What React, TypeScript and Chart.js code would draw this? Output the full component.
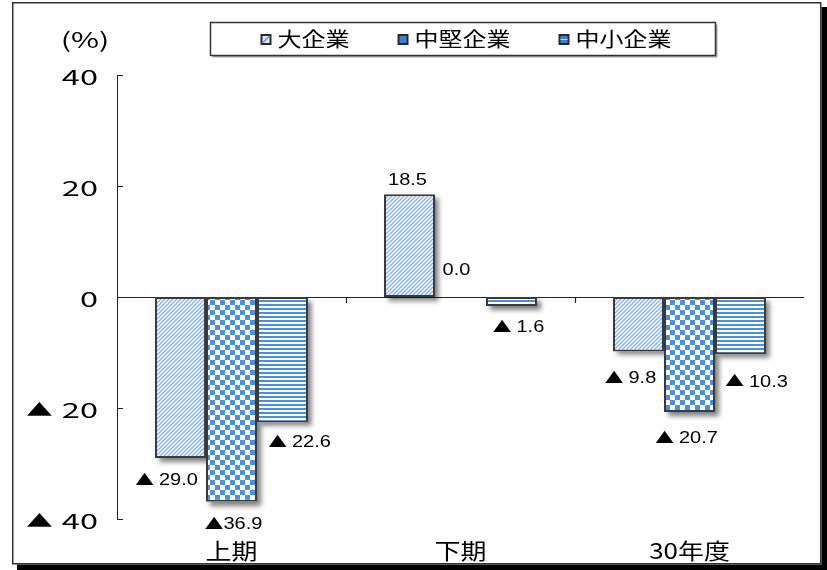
import { useEffect, useRef } from "react";
import { Chart, registerables } from "chart.js";

Chart.register(...registerables);

// ---- data ----
const categories = ["上期", "下期", "30年度"];
const seriesNames = ["大企業", "中堅企業", "中小企業"];
const largeCorp = [-29.0, 18.5, -9.8];
const midCorp = [-36.9, 0.0, -20.7];
const smallCorp = [-22.6, -1.6, -10.3];
const yTicks = [40, 20, 0, -20, -40];
const unitLabel = "(%)";

// ---- label placement (offsets from the bar end, in px) ----
const labelOffsets = [
  [[-14, 23], [-2, -14], [-8, 27]],
  [[2, 23], [-4, -26], [-3, 27]],
  [[17, 20], [7, 22], [16, 28]],
];
// labels written without the gap after the triangle
const tightLabels = [
  [false, false, false],
  [true, false, false],
  [false, false, false],
];

const FRAME = { left: 12, top: 2, right: 821.5, bottom: 564.5 };
const LEGEND_BOX = { left: 210.5, top: 22.5, right: 715.5, bottom: 55.5 };
const TRI = "▲";

// Draws "▲ n" style text: the triangle in a CJK font, the number in its own font,
// everything widened horizontally by sx.
function drawSigned(
  ctx: CanvasRenderingContext2D,
  negative: boolean,
  gap: number,
  num: string,
  x: number,
  y: number,
  numFont: string,
  triFont: string,
  triDy: number,
  sx: number,
  align: "left" | "center" | "right"
) {
  ctx.save();
  ctx.textBaseline = "middle";
  ctx.textAlign = "left";
  ctx.fillStyle = "#000";
  ctx.font = triFont;
  const tw = negative ? ctx.measureText(TRI).width : 0;
  ctx.font = numFont;
  const nw = ctx.measureText(num).width;
  const g = negative ? gap : 0;
  const total = (tw + g + nw) * sx;
  let left = x;
  if (align === "center") left = x - total / 2;
  else if (align === "right") left = x - total;
  ctx.translate(left, y);
  ctx.scale(sx, 1);
  if (negative) {
    ctx.font = triFont;
    ctx.fillText(TRI, 0, triDy);
  }
  ctx.font = numFont;
  ctx.fillText(num, tw + g, 0);
  ctx.restore();
}

function stretchText(
  ctx: CanvasRenderingContext2D,
  text: string,
  x: number,
  y: number,
  font: string,
  sx: number,
  align: CanvasTextAlign
) {
  ctx.save();
  ctx.font = font;
  ctx.textAlign = align;
  ctx.textBaseline = "middle";
  ctx.fillStyle = "#000";
  ctx.translate(x, y);
  ctx.scale(sx, 1);
  ctx.fillText(text, 0, 0);
  ctx.restore();
}

function makeTile(w: number, h: number, paint: (c: CanvasRenderingContext2D) => void) {
  const cv = document.createElement("canvas");
  cv.width = w;
  cv.height = h;
  const c = cv.getContext("2d")!;
  c.fillStyle = "#fff";
  c.fillRect(0, 0, w, h);
  paint(c);
  return cv;
}

function buildPatterns(ctx: CanvasRenderingContext2D) {
  const hatch = makeTile(4, 4, (c) => {
    c.strokeStyle = "#86b2e6";
    c.lineWidth = 1.3;
    c.beginPath();
    c.moveTo(-1, 5);
    c.lineTo(5, -1);
    c.moveTo(-1, 1);
    c.lineTo(1, -1);
    c.moveTo(3, 5);
    c.lineTo(5, 3);
    c.stroke();
  });
  const checker = makeTile(10, 10, (c) => {
    c.fillStyle = "#4b8fe0";
    c.fillRect(0, 0, 5, 5);
    c.fillRect(5, 5, 5, 5);
  });
  const stripes = makeTile(1, 4, (c) => {
    c.fillStyle = "#4b8dde";
    c.fillRect(0, 0, 1, 2);
  });
  return [
    ctx.createPattern(hatch, "repeat")!,
    ctx.createPattern(checker, "repeat")!,
    ctx.createPattern(stripes, "repeat")!,
  ];
}

// page frame with its black drop shadow
const framePlugin = {
  id: "frame",
  beforeDraw(chart: any) {
    const { ctx, width, height } = chart;
    ctx.save();
    ctx.fillStyle = "#fff";
    ctx.fillRect(0, 0, width, height);
    ctx.fillStyle = "#000";
    ctx.fillRect(FRAME.left + 5, FRAME.top + 5, width - FRAME.left - 5, height - FRAME.top - 5);
    ctx.fillStyle = "#fff";
    ctx.fillRect(FRAME.left, FRAME.top, FRAME.right - FRAME.left, FRAME.bottom - FRAME.top);
    ctx.strokeStyle = "#333";
    ctx.lineWidth = 1.5;
    ctx.strokeRect(FRAME.left + 0.75, FRAME.top + 0.75, FRAME.right - FRAME.left - 1.5, FRAME.bottom - FRAME.top - 1.5);
    ctx.restore();
  },
};

// axes, tick labels and bar shadows
const axesPlugin = {
  id: "axesAndShadows",
  beforeDatasetsDraw(chart: any) {
    const { ctx, chartArea, scales } = chart;
    const y = scales.y;
    const x = scales.x;
    const L = chartArea.left;
    const R = chartArea.right;
    const y0 = y.getPixelForValue(0);

    ctx.save();
    ctx.strokeStyle = "#222";
    ctx.lineWidth = 1;
    ctx.beginPath();
    ctx.moveTo(L + 0.5, chartArea.top);
    ctx.lineTo(L + 0.5, chartArea.bottom);
    yTicks.forEach((v) => {
      const py = Math.round(y.getPixelForValue(v)) + 0.5;
      ctx.moveTo(L, py);
      ctx.lineTo(L + 6, py);
    });
    ctx.stroke();

    ctx.beginPath();
    ctx.lineWidth = 1.2;
    ctx.moveTo(L, Math.round(y0) + 0.5);
    ctx.lineTo(R, Math.round(y0) + 0.5);
    for (let i = 0; i < categories.length - 1; i++) {
      const bx = Math.round((x.getPixelForValue(i) + x.getPixelForValue(i + 1)) / 2) + 0.5;
      ctx.moveTo(bx, y0);
      ctx.lineTo(bx, y0 + 6);
    }
    ctx.stroke();
    ctx.restore();

    // value axis labels
    yTicks.forEach((v) => {
      drawSigned(
        ctx,
        v < 0,
        6,
        String(Math.abs(v)),
        98,
        y.getPixelForValue(v) + 2,
        '21px "Noto Sans CJK JP"',
        '17px "Noto Sans CJK JP"',
        -0.5,
        1.55,
        "right"
      );
    });
    stretchText(ctx, unitLabel, 85, 40, '21px "Noto Sans CJK JP"', 1.45, "center");

    // category labels
    categories.forEach((c, i) => {
      stretchText(ctx, c, x.getPixelForValue(i), 551, '22px "Noto Sans CJK JP"', 1.18, "center");
    });

    // soft drop shadows under the bars
    ctx.save();
    ctx.shadowColor = "rgba(0,0,0,0.5)";
    ctx.shadowBlur = 5;
    ctx.shadowOffsetX = 4;
    ctx.shadowOffsetY = 4;
    ctx.fillStyle = "#fff";
    chart.data.datasets.forEach((_: any, di: number) => {
      chart.getDatasetMeta(di).data.forEach((el: any) => {
        const { x: bx, y: by, base, width } = el.getProps(["x", "y", "base", "width"], true);
        const h = Math.abs(by - base);
        if (h < 0.5) return;
        ctx.fillRect(bx - width / 2, Math.min(by, base), width, h);
      });
    });
    ctx.restore();
  },
  afterDatasetsDraw(chart: any) {
    const { ctx } = chart;
    chart.data.datasets.forEach((ds: any, di: number) => {
      chart.getDatasetMeta(di).data.forEach((el: any, i: number) => {
        const v = ds.data[i] as number;
        const [dx, dy] = labelOffsets[di][i];
        drawSigned(
          ctx,
          v < 0,
          tightLabels[di][i] ? 0 : 4,
          Math.abs(v).toFixed(1),
          el.x + dx,
          el.y + dy,
          '16px "Liberation Sans"',
          '15px "Noto Sans CJK JP"',
          -1.5,
          1.25,
          "center"
        );
      });
    });
  },
};

// boxed legend across the top
const legendPlugin = {
  id: "boxLegend",
  afterDraw(chart: any) {
    const { ctx } = chart;
    const b = LEGEND_BOX;
    ctx.save();
    ctx.fillStyle = "rgba(0,0,0,0.35)";
    ctx.fillRect(b.left + 2, b.top + 2, b.right - b.left, b.bottom - b.top);
    ctx.fillStyle = "#fff";
    ctx.fillRect(b.left, b.top, b.right - b.left, b.bottom - b.top);
    ctx.strokeStyle = "#333";
    ctx.lineWidth = 1.5;
    ctx.strokeRect(b.left, b.top, b.right - b.left, b.bottom - b.top);

    const font = '20px "Noto Sans CJK JP"';
    const sx = 1.2;
    ctx.font = font;
    const items = chart.data.datasets.map((ds: any) => ({ label: ds.label as string, w: ctx.measureText(ds.label).width * sx }));
    const gap = 48;
    const total = items.reduce((s: number, it: any) => s + 17 + it.w, 0) + gap * (items.length - 1);
    let cx = (b.left + b.right) / 2 + 3 - total / 2;
    const cy = (b.top + b.bottom) / 2;
    items.forEach((it: any, i: number) => {
      const my = Math.round(cy - 5);
      ctx.fillStyle = "#2a2a2a";
      ctx.fillRect(cx, my, 11, 11);
      ctx.fillStyle = i === 0 ? "#e4ecf7" : "#3f80d4";
      ctx.fillRect(cx + 2, my + 2, 7, 7);
      if (i === 0) {
        ctx.strokeStyle = "#5b8fd6";
        ctx.lineWidth = 1.2;
        ctx.beginPath();
        ctx.moveTo(cx + 2.5, my + 8.5);
        ctx.lineTo(cx + 8.5, my + 2.5);
        ctx.stroke();
      } else if (i === 2) {
        ctx.fillStyle = "#cfe0f6";
        ctx.fillRect(cx + 2, my + 5, 7, 1);
      }
      stretchText(ctx, it.label, cx + 17, cy, font, sx, "left");
      cx += 17 + it.w + gap;
    });
    ctx.restore();
  },
};

export default function App() {
  const ref = useRef<HTMLCanvasElement | null>(null);

  useEffect(() => {
    const canvas = ref.current!;
    const ctx = canvas.getContext("2d")!;
    const [hatch, checker, stripes] = buildPatterns(ctx);
    const series = [largeCorp, midCorp, smallCorp];
    const fills = [hatch, checker, stripes];

    const chart = new Chart(canvas, {
      type: "bar",
      data: {
        labels: categories,
        datasets: series.map((values, i) => ({
          label: seriesNames[i],
          data: values,
          backgroundColor: fills[i],
          borderColor: "#3a3a3a",
          borderWidth: 2,
          borderSkipped: false,
          categoryPercentage: 0.668,
          barPercentage: 1,
        })),
      },
      options: {
        animation: false,
        responsive: false,
        layout: { padding: { left: 117, right: 23, top: 75, bottom: 51 } },
        plugins: { legend: { display: false }, tooltip: { enabled: false } },
        scales: {
          x: { display: false, offset: true },
          y: { display: false, min: -40, max: 40 },
        },
      },
      plugins: [framePlugin, axesPlugin, legendPlugin],
    } as any);

    return () => chart.destroy();
  }, []);

  return (
    <canvas
      ref={ref}
      width={827}
      height={570}
      style={{ position: "absolute", left: 0, top: 0, width: 827, height: 570 }}
    />
  );
}
